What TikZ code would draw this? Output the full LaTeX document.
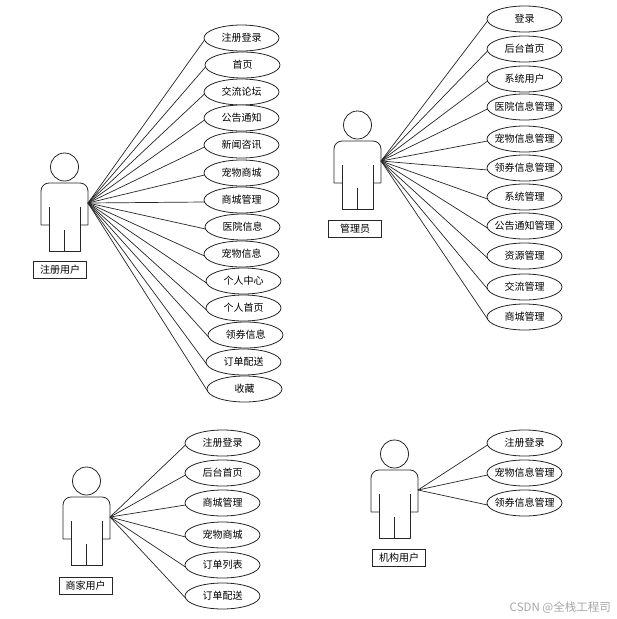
\documentclass[tikz,border=0pt]{standalone}
\usepackage{fontspec}
\setmainfont{Noto Sans CJK SC}
\usetikzlibrary{shapes.geometric}
\newcommand{\uctext}[1]{\raisebox{-0.38em}[0pt][0pt]{\makebox[0pt]{#1}}}
\tikzset{
  uc/.style={draw=black!85,ellipse,line width=0.8pt,fill=white,minimum width=75pt,minimum height=26pt,inner sep=0pt,font=\fontsize{10}{11}\selectfont},
  lbl/.style={draw=black!85,line width=0.8pt,fill=white,minimum width=53pt,minimum height=17pt,inner sep=0pt,font=\fontsize{10}{11}\selectfont},
  link/.style={draw=black!85,line width=0.7pt},
  body/.style={draw=black!85,line width=0.8pt,line join=round},
  pics/actor/.style={code={
    \draw[body] (0,-36) circle[radius=14];
    \draw[body] (-15.5,48) -- (-15.5,4) (15.5,4) -- (15.5,48) -- (-15.5,48);
    \draw[body] (-15.5,22) -- (-23.5,22) -- (-23.5,-12) arc[start angle=180,end angle=270,radius=8] -- (15.5,-20) arc[start angle=270,end angle=360,radius=8] -- (23.5,22) -- (15.5,22);
    \draw[body] (0,48) -- (0,27);
  }}
}
\begin{document}
\begin{tikzpicture}[x=1pt,y=-1pt]
\useasboundingbox (0,0) rectangle (617,619);
% actor 1
\coordinate (h1) at (88,203);
\pic at (64.5,203) {actor};
\node[lbl] (l1) at (60,269.5) {注册用户};
\foreach \n/\x/\y/\t in {a1/241.5/38/注册登录,a2/242.5/65/首页,a3/241.5/92/交流论坛,a4/241.5/118/公告通知,a5/241.5/145/新闻咨讯,a6/241.5/173/宠物商城,a7/241.5/200/商城管理,a8/242.5/227/医院信息,a9/241.5/254/宠物信息,a10/243.5/281/个人中心,a11/243.5/308/个人首页,a12/245.5/335/领券信息,a13/243.5/362/订单配送,a14/244.5/389/收藏}{
  \draw[link] (h1) -- (\x-37,\y+2);
  \node[uc] (\n) at (\x,\y) {\uctext{\t}};
}
% actor 2
\coordinate (h2) at (381,161);
\pic at (357.5,161) {actor};
\node[lbl] (l2) at (355,228.5) {管理员};
\foreach \n/\x/\y/\t in {b1/524.5/19/登录,b2/524.5/49/后台首页,b3/524.5/79/系统用户,b4/524.5/107/医院信息管理,b5/524.5/139/宠物信息管理,b6/524.5/168/领券信息管理,b7/524.5/197/系统管理,b8/524.5/226/公告通知管理,b9/524.5/256/资源管理,b10/524.5/287/交流管理,b11/524.5/317/商城管理}{
  \draw[link] (h2) -- (\x-37,\y+2);
  \node[uc] (\n) at (\x,\y) {\uctext{\t}};
}
% actor 3
\coordinate (h3) at (110,517);
\pic at (86.5,517) {actor};
\node[lbl] (l3) at (85.5,585.5) {商家用户};
\foreach \n/\x/\y/\t in {c1/222.5/443/注册登录,c2/222.5/473/后台首页,c3/222.5/503/商城管理,c4/222.5/535/宠物商城,c5/222.5/565/订单列表,c6/222.5/596/订单配送}{
  \draw[link] (h3) -- (\x-37,\y+2);
  \node[uc] (\n) at (\x,\y) {\uctext{\t}};
}
% actor 4
\coordinate (h4) at (418,490);
\pic at (394.5,490) {actor};
\node[lbl] (l4) at (399,557.5) {机构用户};
\foreach \n/\x/\y/\t in {d1/524.5/443/注册登录,d2/524.5/473/宠物信息管理,d3/524.5/503/领券信息管理}{
  \draw[link] (h4) -- (\x-37,\y+2);
  \node[uc] (\n) at (\x,\y) {\uctext{\t}};
}
\node[text=black!35,font=\fontsize{11.5}{12}\selectfont,anchor=east,inner sep=0pt] (wm) at (611,608) {CSDN @全栈工程司};
\end{tikzpicture}
\end{document}
